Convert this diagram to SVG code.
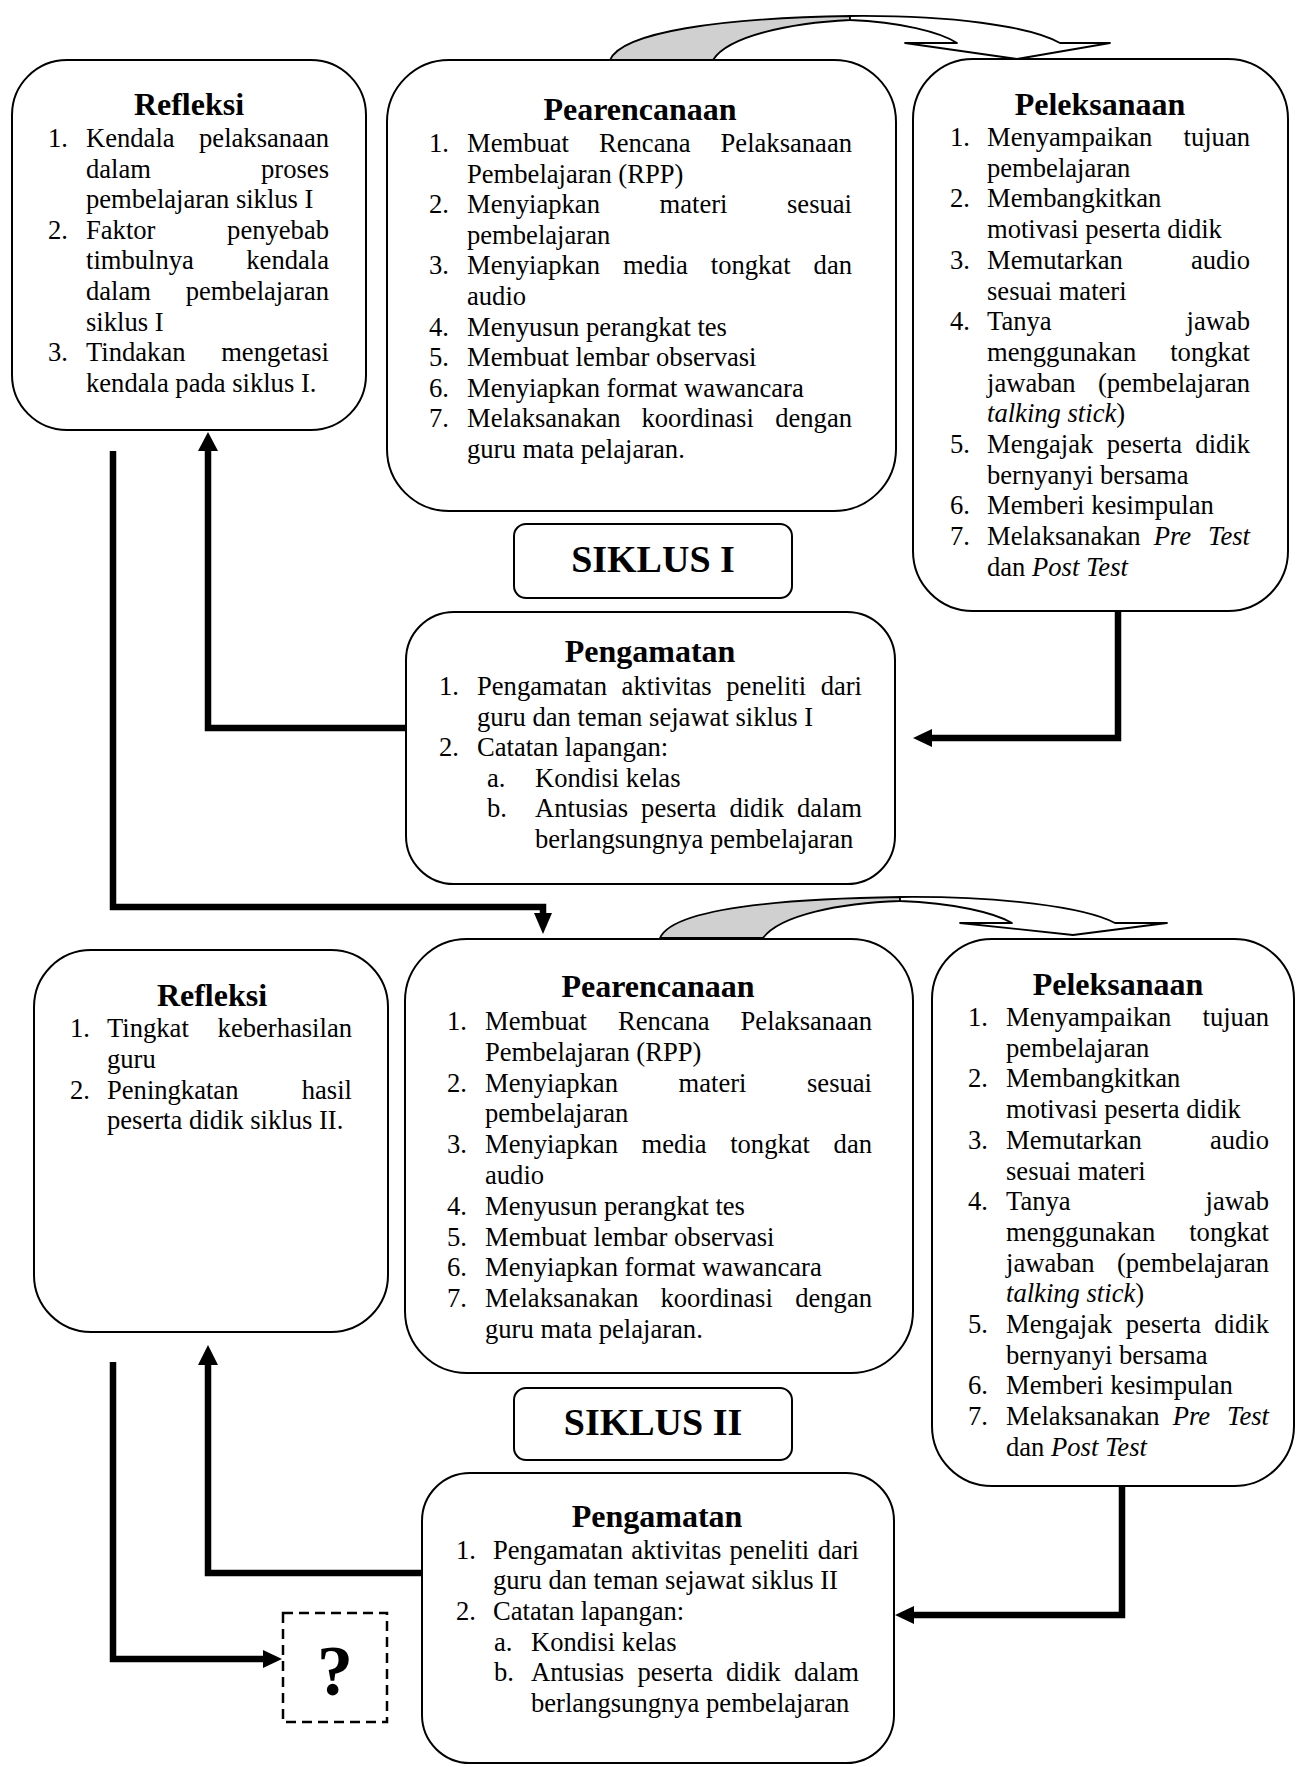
<svg xmlns="http://www.w3.org/2000/svg" width="1296" height="1767" viewBox="0 0 1296 1767">
<style>
text{font-family:"Liberation Serif","Times New Roman",serif;fill:#000}
.t{font-size:26.6px}
.h{font-size:32px;font-weight:bold;text-anchor:middle}
.s{font-size:38px;font-weight:bold;text-anchor:middle}
.q{font-size:72px;font-weight:bold;text-anchor:middle}
.r{text-anchor:end}
.i{font-style:italic}
.box{fill:#fff;stroke:#000;stroke-width:2}
.conn{fill:none;stroke:#000;stroke-width:6.5}
.head{fill:#000;stroke:none}
.band{stroke:#000;stroke-width:1.8;stroke-linejoin:round}
</style>
<rect width="1296" height="1767" fill="#fff"/>

<g id="connectors">
  <!-- curved arrow 1 -->
  <path class="band" fill="#d0d0d0" d="M610,60 C622,32 720,18 850,16 L850,20 C790,23 728,36 713,60 Z"/>
  <path class="band" fill="#fff" d="M850,16 C950,15 1030,26 1060,43 L1110,43 L1017,59 L905,43 L957,43 C940,32 900,22 850,20 Z"/>
  <!-- curved arrow 2 -->
  <path class="band" fill="#d0d0d0" d="M660,938 C672,910 770,899 900,897 L900,901 C840,903 780,915 763,938 Z"/>
  <path class="band" fill="#fff" d="M900,897 C1000,896 1085,907 1115,923 L1167,923 L1073,935 L960,923 L1012,923 C995,913 955,903 900,901 Z"/>

  <!-- Refleksi I -> Pearencanaan II -->
  <path class="conn" d="M113,451 V907 H543 V915"/>
  <polygon class="head" points="534,913 552,913 543,934"/>
  <!-- Pengamatan I -> Refleksi I -->
  <path class="conn" d="M406,728 H208 V449"/>
  <polygon class="head" points="198,451 218,451 208,432"/>
  <!-- Peleksanaan I -> Pengamatan I -->
  <path class="conn" d="M1118,611 V738 H930"/>
  <polygon class="head" points="932,729 932,747 913,738"/>
  <!-- Pengamatan II -> Refleksi II -->
  <path class="conn" d="M422,1573 H208 V1363"/>
  <polygon class="head" points="198,1365 218,1365 208,1345"/>
  <!-- Refleksi II -> ? -->
  <path class="conn" d="M113,1362 V1659 H265"/>
  <polygon class="head" points="263,1650 263,1668 282,1659"/>
  <!-- Peleksanaan II -> Pengamatan II -->
  <path class="conn" d="M1122,1486 V1615 H912"/>
  <polygon class="head" points="914,1606 914,1624 895,1615"/>
</g>

<g id="refleksi1">
  <rect class="box" x="12" y="60" width="354" height="370" rx="55"/>
  <text class="h" x="189" y="115">Refleksi</text>
  <g class="t">
    <text class="t" x="48" y="147">1.</text><text class="t" x="86" y="147">Kendala</text><text class="t r" x="329" y="147">pelaksanaan</text>
    <text class="t" x="86" y="177.6">dalam</text><text class="t r" x="329" y="177.6">proses</text>
    <text class="t" x="86" y="208.2">pembelajaran siklus I</text>
    <text class="t" x="48" y="238.8">2.</text><text class="t" x="86" y="238.8">Faktor</text><text class="t r" x="329" y="238.8">penyebab</text>
    <text class="t" x="86" y="269.4">timbulnya</text><text class="t r" x="329" y="269.4">kendala</text>
    <text class="t" x="86" y="300">dalam</text><text class="t r" x="329" y="300">pembelajaran</text>
    <text class="t" x="86" y="330.6">siklus I</text>
    <text class="t" x="48" y="361.2">3.</text><text class="t" x="86" y="361.2">Tindakan</text><text class="t r" x="329" y="361.2">mengetasi</text>
    <text class="t" x="86" y="391.8">kendala pada siklus I.</text>
  </g>
</g>

<g id="perencanaan1">
  <rect class="box" x="387" y="60" width="509" height="451" rx="62"/>
  <text class="h" x="640" y="120">Pearencanaan</text>
  <text class="t" x="429" y="152">1.</text><text class="t" x="467" y="152">Membuat</text><text class="t" x="599" y="152">Rencana</text><text class="t r" x="852" y="152">Pelaksanaan</text>
  <text class="t" x="467" y="182.6">Pembelajaran (RPP)</text>
  <text class="t" x="429" y="213.2">2.</text><text class="t" x="467" y="213.2">Menyiapkan</text><text class="t" x="659.5" y="213.2">materi</text><text class="t r" x="852" y="213.2">sesuai</text>
  <text class="t" x="467" y="243.8">pembelajaran</text>
  <text class="t" x="429" y="274.4">3.</text><text class="t" x="467" y="274.4">Menyiapkan</text><text class="t" x="622.9" y="274.4">media</text><text class="t" x="710.8" y="274.4">tongkat</text><text class="t r" x="852" y="274.4">dan</text>
  <text class="t" x="467" y="305">audio</text>
  <text class="t" x="429" y="335.6">4.</text><text class="t" x="467" y="335.6">Menyusun perangkat tes</text>
  <text class="t" x="429" y="366.2">5.</text><text class="t" x="467" y="366.2">Membuat lembar observasi</text>
  <text class="t" x="429" y="396.8">6.</text><text class="t" x="467" y="396.8">Menyiapkan format wawancara</text>
  <text class="t" x="429" y="427.4">7.</text><text class="t" x="467" y="427.4">Melaksanakan</text><text class="t" x="641.5" y="427.4">koordinasi</text><text class="t r" x="852" y="427.4">dengan</text>
  <text class="t" x="467" y="458">guru mata pelajaran.</text>
</g>

<g id="pelaksanaan1">
  <rect class="box" x="913" y="59" width="375" height="552" rx="60"/>
  <text class="h" x="1100" y="115">Peleksanaan</text>
  <text class="t" x="950" y="146">1.</text><text class="t" x="987" y="146">Menyampaikan</text><text class="t r" x="1250" y="146">tujuan</text>
  <text class="t" x="987" y="176.7">pembelajaran</text>
  <text class="t" x="950" y="207.4">2.</text><text class="t" x="987" y="207.4">Membangkitkan</text>
  <text class="t" x="987" y="238.1">motivasi peserta didik</text>
  <text class="t" x="950" y="268.8">3.</text><text class="t" x="987" y="268.8">Memutarkan</text><text class="t r" x="1250" y="268.8">audio</text>
  <text class="t" x="987" y="299.5">sesuai materi</text>
  <text class="t" x="950" y="330.2">4.</text><text class="t" x="987" y="330.2">Tanya</text><text class="t r" x="1250" y="330.2">jawab</text>
  <text class="t" x="987" y="360.9">menggunakan</text><text class="t r" x="1250" y="360.9">tongkat</text>
  <text class="t" x="987" y="391.6">jawaban</text><text class="t r" x="1250" y="391.6">(pembelajaran</text>
  <text class="t" x="987" y="422.3"><tspan class="i">talking stick</tspan>)</text>
  <text class="t" x="950" y="453">5.</text><text class="t" x="987" y="453">Mengajak</text><text class="t" x="1106.7" y="453">peserta</text><text class="t r" x="1250" y="453">didik</text>
  <text class="t" x="987" y="483.7">bernyanyi bersama</text>
  <text class="t" x="950" y="514.4">6.</text><text class="t" x="987" y="514.4">Memberi kesimpulan</text>
  <text class="t" x="950" y="545.1">7.</text><text class="t" x="987" y="545.1">Melaksanakan</text><text class="t i" x="1153.7" y="545.1">Pre</text><text class="t i r" x="1250" y="545.1">Test</text>
  <text class="t" x="987" y="575.8">dan <tspan class="i">Post Test</tspan></text>
</g>

<g id="siklus1">
  <rect class="box" x="514" y="524" width="278" height="74" rx="12"/>
  <text class="s" x="653" y="572">SIKLUS I</text>
</g>

<g id="pengamatan1">
  <rect class="box" x="406" y="612" width="489" height="272" rx="48"/>
  <text class="h" x="650" y="662">Pengamatan</text>
  <text class="t" x="439" y="695">1.</text><text class="t" x="477" y="695">Pengamatan</text><text class="t" x="621.6" y="695">aktivitas</text><text class="t" x="726.3" y="695">peneliti</text><text class="t r" x="862" y="695">dari</text>
  <text class="t" x="477" y="725.5">guru dan teman sejawat siklus I</text>
  <text class="t" x="439" y="756">2.</text><text class="t" x="477" y="756">Catatan lapangan:</text>
  <text class="t" x="487" y="786.5">a.</text><text class="t" x="535" y="786.5">Kondisi kelas</text>
  <text class="t" x="487" y="817">b.</text><text class="t" x="535" y="817">Antusias</text><text class="t" x="641.1" y="817">peserta</text><text class="t" x="729.4" y="817">didik</text><text class="t r" x="862" y="817">dalam</text>
  <text class="t" x="535" y="847.5">berlangsungnya pembelajaran</text>
</g>

<g id="refleksi2">
  <rect class="box" x="34" y="950" width="354" height="382" rx="57"/>
  <text class="h" x="212" y="1006">Refleksi</text>
  <text class="t" x="70" y="1037">1.</text><text class="t" x="107" y="1037">Tingkat</text><text class="t r" x="352" y="1037">keberhasilan</text>
  <text class="t" x="107" y="1067.8">guru</text>
  <text class="t" x="70" y="1098.6">2.</text><text class="t" x="107" y="1098.6">Peningkatan</text><text class="t r" x="352" y="1098.6">hasil</text>
  <text class="t" x="107" y="1129.4">peserta didik siklus II.</text>
</g>

<g id="perencanaan2">
  <rect class="box" x="405" y="939" width="508" height="434" rx="62"/>
  <text class="h" x="658" y="997">Pearencanaan</text>
  <text class="t" x="447" y="1030">1.</text><text class="t" x="485" y="1030">Membuat</text><text class="t" x="618" y="1030">Rencana</text><text class="t r" x="872" y="1030">Pelaksanaan</text>
  <text class="t" x="485" y="1060.8">Pembelajaran (RPP)</text>
  <text class="t" x="447" y="1091.6">2.</text><text class="t" x="485" y="1091.6">Menyiapkan</text><text class="t" x="678.5" y="1091.6">materi</text><text class="t r" x="872" y="1091.6">sesuai</text>
  <text class="t" x="485" y="1122.4">pembelajaran</text>
  <text class="t" x="447" y="1153.2">3.</text><text class="t" x="485" y="1153.2">Menyiapkan</text><text class="t" x="641.6" y="1153.2">media</text><text class="t" x="730.2" y="1153.2">tongkat</text><text class="t r" x="872" y="1153.2">dan</text>
  <text class="t" x="485" y="1184">audio</text>
  <text class="t" x="447" y="1214.8">4.</text><text class="t" x="485" y="1214.8">Menyusun perangkat tes</text>
  <text class="t" x="447" y="1245.6">5.</text><text class="t" x="485" y="1245.6">Membuat lembar observasi</text>
  <text class="t" x="447" y="1276.4">6.</text><text class="t" x="485" y="1276.4">Menyiapkan format wawancara</text>
  <text class="t" x="447" y="1307.2">7.</text><text class="t" x="485" y="1307.2">Melaksanakan</text><text class="t" x="660.5" y="1307.2">koordinasi</text><text class="t r" x="872" y="1307.2">dengan</text>
  <text class="t" x="485" y="1338">guru mata pelajaran.</text>
</g>

<g id="pelaksanaan2">
  <rect class="box" x="932" y="939" width="362" height="547" rx="60"/>
  <text class="h" x="1118" y="995">Peleksanaan</text>
  <text class="t" x="968" y="1026">1.</text><text class="t" x="1006" y="1026">Menyampaikan</text><text class="t r" x="1269" y="1026">tujuan</text>
  <text class="t" x="1006" y="1056.7">pembelajaran</text>
  <text class="t" x="968" y="1087.4">2.</text><text class="t" x="1006" y="1087.4">Membangkitkan</text>
  <text class="t" x="1006" y="1118.1">motivasi peserta didik</text>
  <text class="t" x="968" y="1148.8">3.</text><text class="t" x="1006" y="1148.8">Memutarkan</text><text class="t r" x="1269" y="1148.8">audio</text>
  <text class="t" x="1006" y="1179.5">sesuai materi</text>
  <text class="t" x="968" y="1210.2">4.</text><text class="t" x="1006" y="1210.2">Tanya</text><text class="t r" x="1269" y="1210.2">jawab</text>
  <text class="t" x="1006" y="1240.9">menggunakan</text><text class="t r" x="1269" y="1240.9">tongkat</text>
  <text class="t" x="1006" y="1271.6">jawaban</text><text class="t r" x="1269" y="1271.6">(pembelajaran</text>
  <text class="t" x="1006" y="1302.3"><tspan class="i">talking stick</tspan>)</text>
  <text class="t" x="968" y="1333">5.</text><text class="t" x="1006" y="1333">Mengajak</text><text class="t" x="1125.7" y="1333">peserta</text><text class="t r" x="1269" y="1333">didik</text>
  <text class="t" x="1006" y="1363.7">bernyanyi bersama</text>
  <text class="t" x="968" y="1394.4">6.</text><text class="t" x="1006" y="1394.4">Memberi kesimpulan</text>
  <text class="t" x="968" y="1425.1">7.</text><text class="t" x="1006" y="1425.1">Melaksanakan</text><text class="t i" x="1172.7" y="1425.1">Pre</text><text class="t i r" x="1269" y="1425.1">Test</text>
  <text class="t" x="1006" y="1455.8">dan <tspan class="i">Post Test</tspan></text>
</g>

<g id="siklus2">
  <rect class="box" x="514" y="1388" width="278" height="72" rx="12"/>
  <text class="s" x="653" y="1435">SIKLUS II</text>
</g>

<g id="pengamatan2">
  <rect class="box" x="422" y="1473" width="472" height="290" rx="48"/>
  <text class="h" x="657" y="1527">Pengamatan</text>
  <text class="t" x="456" y="1558.5">1.</text><text class="t" x="493" y="1558.5">Pengamatan</text><text class="t" x="631.2" y="1558.5">aktivitas</text><text class="t" x="729.5" y="1558.5">peneliti</text><text class="t r" x="859" y="1558.5">dari</text>
  <text class="t" x="493" y="1589.2">guru dan teman sejawat siklus II</text>
  <text class="t" x="456" y="1619.9">2.</text><text class="t" x="493" y="1619.9">Catatan lapangan:</text>
  <text class="t" x="494" y="1650.6">a.</text><text class="t" x="531" y="1650.6">Kondisi kelas</text>
  <text class="t" x="494" y="1681.3">b.</text><text class="t" x="531" y="1681.3">Antusias</text><text class="t" x="637.4" y="1681.3">peserta</text><text class="t" x="726" y="1681.3">didik</text><text class="t r" x="859" y="1681.3">dalam</text>
  <text class="t" x="531" y="1712">berlangsungnya pembelajaran</text>
</g>

<g id="unknown">
  <rect x="283" y="1613" width="104" height="109" fill="#fff" stroke="#000" stroke-width="2.5" stroke-dasharray="10,6"/>
  <text class="q" x="335" y="1695">?</text>
</g>
</svg>
